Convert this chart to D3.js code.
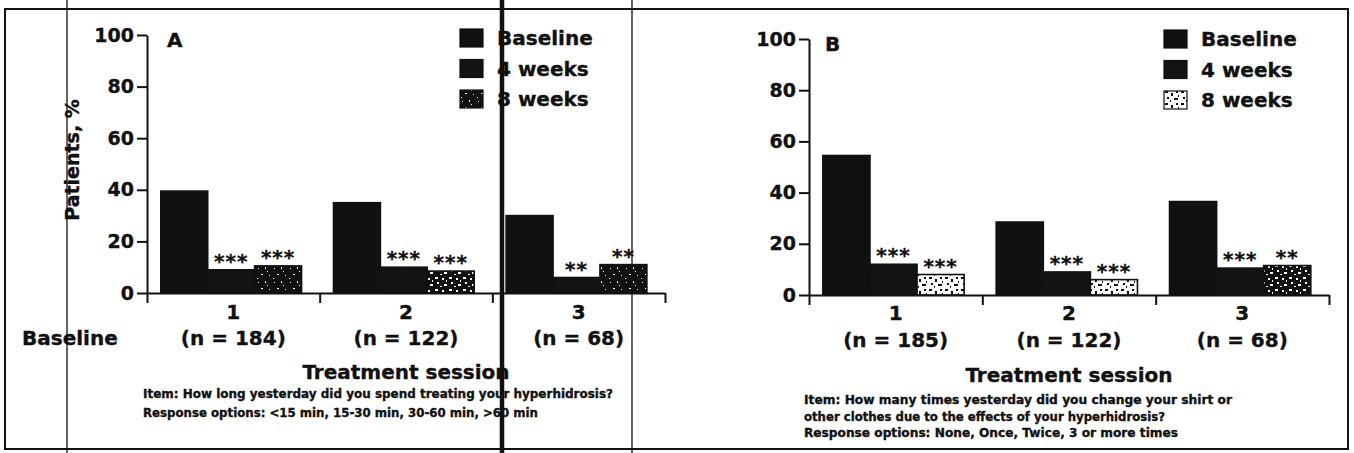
<!DOCTYPE html>
<html>
<head>
<meta charset="utf-8">
<script src="https://cdn.jsdelivr.net/npm/d3@7"></script>
<style>
  body { margin: 0; background: #fff; }
  svg { display: block; }
  text { font-family: "DejaVu Sans", sans-serif; font-weight: bold; fill: #111; stroke: #111; stroke-width: 0.35px; }
</style>
</head>
<body>
<svg id="chart" width="1354" height="453"></svg>
<script>
// ---------------- data ----------------
const sessions = ["1", "2", "3"];
const seriesNames = ["Baseline", "4 weeks", "8 weeks"];
const yTicks = [0, 20, 40, 60, 80, 100];

// Panel A: time spent treating hyperhidrosis
const nLabelsA = ["(n = 184)", "(n = 122)", "(n = 68)"];
const baselineA = [39.5, 35, 30];
const week4A = [9, 10, 6];
const week8A = [10.5, 8.5, 11];
const sig4A = ["***", "***", "**"];
const sig8A = ["***", "***", "**"];
const itemA = [
  "Item: How long yesterday did you spend treating your hyperhidrosis?",
  "Response options: <15 min, 15-30 min, 30-60 min, >60 min"
];

// Panel B: changing clothes
const nLabelsB = ["(n = 185)", "(n = 122)", "(n = 68)"];
const baselineB = [54.5, 28.5, 36.5];
const week4B = [12, 9, 10.5];
const week8B = [8, 6, 11.5];
const sig4B = ["***", "***", "***"];
const sig8B = ["***", "***", "**"];
const itemB = [
  "Item: How many times yesterday did you change your shirt or",
  "other clothes due to the effects of your hyperhidrosis?",
  "Response options: None, Once, Twice, 3 or more times"
];

const xAxisTitle = "Treatment session";
const yAxisTitle = "Patients, %";
const rowTitle = "Baseline";

// ---------------- drawing ----------------
const svg = d3.select("#chart");
const ink = "#111";

// speckle textures for the 8-week bars (fixed shapes)
const defs = svg.append("defs");
function pattern(id, w, h, bg, fg, specks) {
  const p = defs.append("pattern").attr("id", id)
    .attr("patternUnits", "userSpaceOnUse").attr("width", w).attr("height", h);
  p.append("rect").attr("width", w).attr("height", h).attr("fill", bg);
  specks.forEach(r => p.append("rect").attr("x", r[0]).attr("y", r[1])
    .attr("width", r[2]).attr("height", r[3]).attr("fill", fg));
}
pattern("speckDark", 16, 14, ink, "#fff", [[2,2,1,1],[9,1,1,2],[5,8,2,1],[13,9,1,1],[1,12,1,1],[11,5,1,1]]);
pattern("speckMid", 14, 12, ink, "#fff", [[1,1,3,2],[8,2,2,2],[3,6,2,2],[10,8,3,2],[6,10,2,1],[12,4,1,2]]);
pattern("speckLight", 16, 12, "#fff", ink, [[1,1,3,2],[7,3,2,3],[12,1,2,2],[3,7,2,2],[10,8,4,2],[6,10,1,2],[14,5,1,2]]);

function drawPanel(cfg) {
  const g = svg.append("g");
  const y = d3.scaleLinear().domain([0, 100]).range([cfg.y0, cfg.y100]);
  const xb = d3.scaleBand().domain(sessions).range([cfg.x0, cfg.x1]).paddingInner(0).paddingOuter(0);
  const bw = xb.bandwidth();
  const xs = d3.scaleBand().domain(seriesNames).range([bw * 0.08, bw * 0.895]).padding(0);

  const values = [cfg.base, cfg.w4, cfg.w8];
  const fills = [ink, "#131313", null];

  // bars
  seriesNames.forEach((s, si) => {
    g.selectAll(null).data(sessions).enter().append("rect")
      .attr("x", (d) => xb(d) + xs(s))
      .attr("y", (d, i) => y(values[si][i]))
      .attr("width", xs.bandwidth())
      .attr("height", (d, i) => y(0) - y(values[si][i]))
      .attr("fill", (d, i) => si === 2 ? `url(#${cfg.pat8[i]})` : fills[si])
      .attr("stroke", ink).attr("stroke-width", 1.6);
  });

  // significance marks
  [[cfg.s4, 1], [cfg.s8, 2]].forEach(([sig, si]) => {
    g.selectAll(null).data(sessions).enter().append("text")
      .attr("x", (d) => xb(d) + xs(seriesNames[si]) + xs.bandwidth() / 2)
      .attr("y", (d, i) => y(values[si][i]) - 2)
      .attr("text-anchor", "middle")
      .attr("font-size", 20)
      .attr("letter-spacing", 1)
      .text((d, i) => sig[i]);
  });

  // y axis
  const ya = g.append("g").attr("transform", `translate(${cfg.x0},0)`)
    .call(d3.axisLeft(y).tickValues(yTicks).tickSize(10).tickSizeOuter(0).tickPadding(3));
  ya.select(".domain").attr("stroke", ink).attr("stroke-width", 2);
  ya.selectAll(".tick line").attr("stroke", ink).attr("stroke-width", 2);
  ya.selectAll(".tick text").attr("font-size", 19).attr("fill", ink)
    .attr("font-family", "DejaVu Sans").attr("font-weight", "bold");

  // x axis with boundary ticks
  const xl = d3.scaleLinear().domain([0, sessions.length]).range([cfg.x0, cfg.x1]);
  const xa = g.append("g").attr("transform", `translate(0,${cfg.y0})`)
    .call(d3.axisBottom(xl).tickValues(d3.range(sessions.length + 1)).tickFormat("").tickSize(10).tickSizeOuter(0));
  xa.select(".domain").attr("stroke", ink).attr("stroke-width", 2);
  xa.selectAll(".tick line").attr("stroke", ink).attr("stroke-width", 2);

  // category labels
  g.selectAll(null).data(sessions).enter().append("text")
    .attr("x", (d) => xb(d) + bw / 2).attr("y", cfg.catY).attr("dy", "0.36em")
    .attr("text-anchor", "middle").attr("font-size", 20).text((d) => d);
  g.selectAll(null).data(cfg.n).enter().append("text")
    .attr("x", (d, i) => xb(sessions[i]) + bw / 2).attr("y", cfg.nY).attr("dy", "0.36em")
    .attr("text-anchor", "middle").attr("font-size", 20).text((d) => d);

  // axis title
  g.append("text").attr("x", (cfg.x0 + cfg.x1) / 2).attr("y", cfg.titleY).attr("dy", "0.36em")
    .attr("text-anchor", "middle").attr("font-size", 20).text(xAxisTitle);

  // item text
  cfg.item.forEach((t, i) => {
    g.append("text").attr("x", cfg.itemX).attr("y", cfg.itemY[i]).attr("dy", "0.36em")
      .attr("font-size", 12).attr("stroke-width", 0.2)
      .attr("textLength", cfg.itemW[i]).attr("lengthAdjust", "spacingAndGlyphs").text(t);
  });

  // panel letter
  g.append("text").attr("x", cfg.x0 + cfg.letterDx).attr("y", y(100) + 5).attr("dy", "0.36em")
    .attr("font-size", 20).text(cfg.letter);

  // legend
  const lg = g.append("g").attr("transform", `translate(${cfg.legX},${cfg.legY})`);
  seriesNames.forEach((s, i) => {
    lg.append("rect").attr("x", 0).attr("y", i * 30.5).attr("width", 23).attr("height", 18)
      .attr("fill", i === 2 ? `url(#${cfg.legPat})` : fills[i]).attr("stroke", ink).attr("stroke-width", 1.2);
    lg.append("text").attr("x", 37).attr("y", i * 30.5 + 9).attr("dy", "0.36em")
      .attr("font-size", 20).text(s);
  });
}

drawPanel({
  letter: "A", letterDx: 20,
  x0: 147, x1: 665, y0: 293, y100: 35,
  base: baselineA, w4: week4A, w8: week8A, s4: sig4A, s8: sig8A,
  pat8: ["speckDark", "speckMid", "speckDark"], legPat: "speckDark",
  n: nLabelsA, catY: 312, nY: 338, titleY: 372,
  item: itemA, itemX: 143, itemY: [394, 413], itemW: [470, 395],
  legX: 460, legY: 29
});

drawPanel({
  letter: "B", letterDx: 16,
  x0: 809, x1: 1329, y0: 295, y100: 39,
  base: baselineB, w4: week4B, w8: week8B, s4: sig4B, s8: sig8B,
  pat8: ["speckLight", "speckLight", "speckMid"], legPat: "speckLight",
  n: nLabelsB, catY: 313, nY: 340, titleY: 375,
  item: itemB, itemX: 804, itemY: [400, 417, 433], itemW: [428, 361, 374],
  legX: 1164, legY: 30
});

// left-hand labels
svg.append("text").attr("transform", "translate(72,160) rotate(-90)")
  .attr("text-anchor", "middle").attr("dy", "0.36em").attr("font-size", 19).text(yAxisTitle);
svg.append("text").attr("x", 22).attr("y", 338).attr("dy", "0.36em").attr("font-size", 20).text(rowTitle);

// frame and scan lines
const lines = svg.append("g").attr("stroke", ink).attr("fill", "none");
lines.append("rect").attr("x", 5).attr("y", 9).attr("width", 1343).attr("height", 440).attr("stroke-width", 2);
lines.append("line").attr("x1", 67).attr("x2", 67).attr("y1", 0).attr("y2", 453).attr("stroke-width", 1.3);
lines.append("line").attr("x1", 632).attr("x2", 632).attr("y1", 0).attr("y2", 453).attr("stroke-width", 1.3);
lines.append("line").attr("x1", 502).attr("x2", 502).attr("y1", 0).attr("y2", 453).attr("stroke-width", 4.5);
</script>
</body>
</html>
